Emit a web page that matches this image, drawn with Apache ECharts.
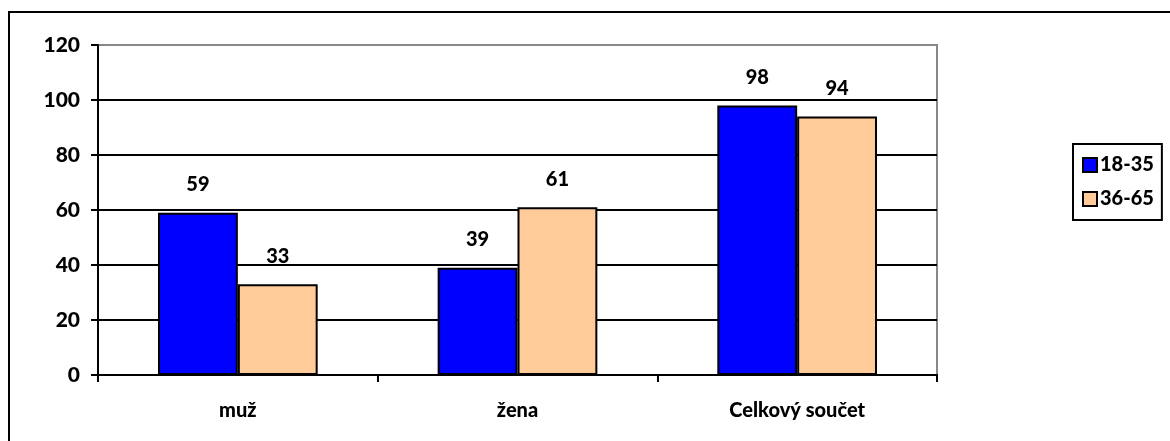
<!DOCTYPE html>
<html><head><meta charset="utf-8">
<script src="https://cdn.jsdelivr.net/npm/echarts@6/dist/echarts.min.js"></script>
<style>html,body{margin:0;padding:0;background:#fff}#c{width:1170px;height:441px}</style>
</head><body><div id="c"></div>
<script>
const categories = ['muž', 'žena', 'Celkový součet'];
const seriesNames = ['18-35', '36-65'];
const values1835 = [59, 39, 98];
const values3665 = [33, 61, 94];
const yMin = 0, yMax = 120, yStep = 20;

const FONT = 'Lato';
const W = 900;
const chart = echarts.init(document.getElementById('c'));
const labelCfg = {show: true, position: 'top', distance: 18, color: '#000', fontFamily: FONT, fontWeight: W, fontSize: 20};
chart.setOption({
  animation: false,
  graphic: [{type: 'rect', shape: {x: 9, y: 12, width: 1200, height: 500}, style: {fill: 'none', stroke: '#000', lineWidth: 2}, z: 100}],
  grid: {left: 98, right: 233, top: 45, bottom: 66, show: true, borderColor: '#888', borderWidth: 2, backgroundColor: 'transparent'},
  legend: {
    orient: 'vertical', left: 1073, top: 144, width: 85,
    padding: [11, 8, 11, 9], itemGap: 14, itemWidth: 14, itemHeight: 14,
    borderColor: '#000', borderWidth: 2, icon: 'rect',
    textStyle: {fontFamily: FONT, fontWeight: W, fontSize: 20, color: '#000', padding: [0, 0, 0, -2]},
    data: seriesNames
  },
  xAxis: {
    type: 'category', data: categories,
    axisLine: {lineStyle: {color: '#000', width: 2}},
    axisTick: {show: true, alignWithLabel: false, length: 7, lineStyle: {color: '#000', width: 2}},
    axisLabel: {color: '#000', fontFamily: FONT, fontWeight: W, fontSize: 20, margin: 26}
  },
  yAxis: {
    type: 'value', min: yMin, max: yMax, interval: yStep,
    axisLine: {show: true, lineStyle: {color: '#000', width: 2}},
    axisTick: {show: true, length: 7, lineStyle: {color: '#000', width: 2}},
    axisLabel: {color: '#000', fontFamily: FONT, fontWeight: W, fontSize: 21, margin: 18},
    splitLine: {show: true, lineStyle: {color: ['#000','#000','#000','#000','#000','#000','#888'], width: 2}}
  },
  series: [
    {name: seriesNames[0], type: 'bar', data: values1835, barGap: '0%', barCategoryGap: '42.9%',
     itemStyle: {color: '#0000FF', borderColor: '#000', borderWidth: 2}, label: labelCfg},
    {name: seriesNames[1], type: 'bar', data: values3665,
     itemStyle: {color: '#FFCC99', borderColor: '#000', borderWidth: 2}, label: labelCfg}
  ]
});
</script></body></html>
